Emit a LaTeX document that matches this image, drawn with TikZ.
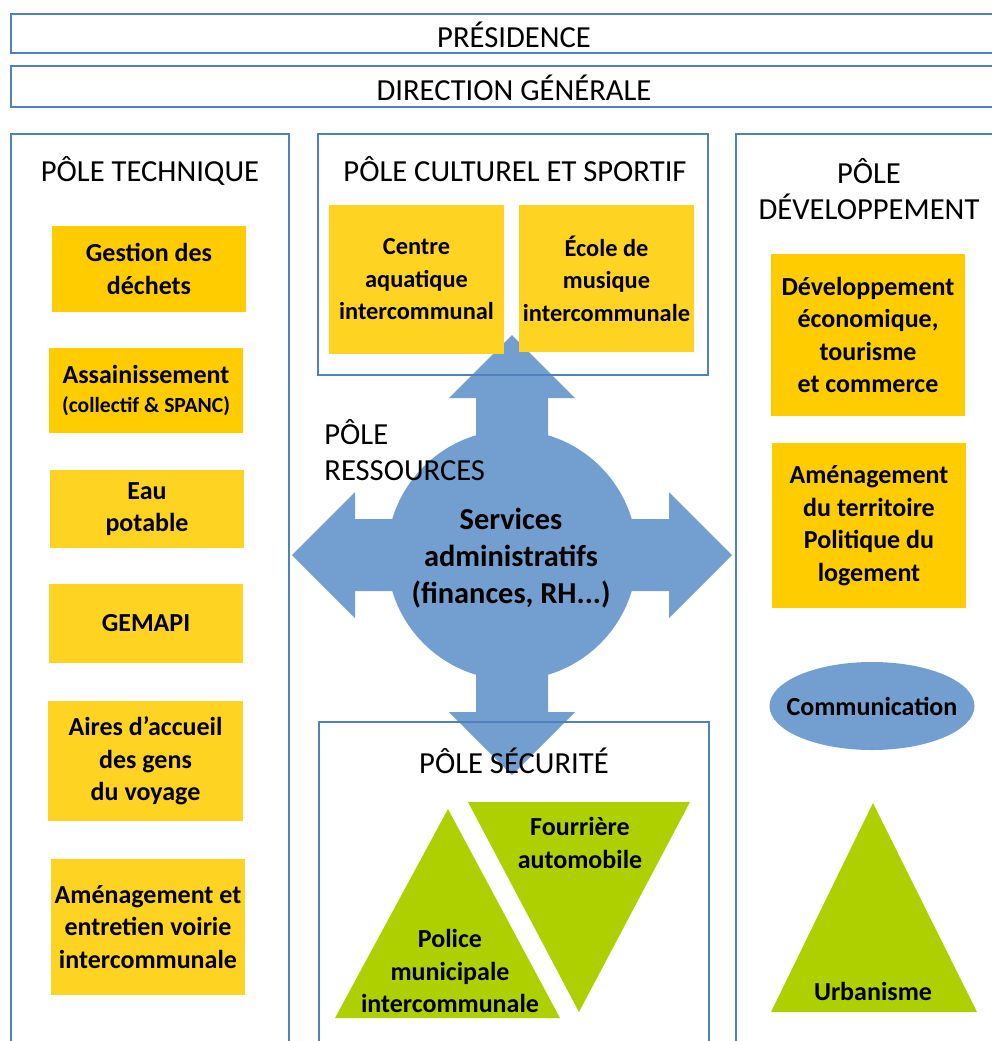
\documentclass[tikz,border=0pt]{standalone}
\usepackage{fontspec}
\setmainfont{Carlito}
\usetikzlibrary{shapes.geometric}
\definecolor{frameblue}{RGB}{79,129,189}
\definecolor{arrowblue}{RGB}{114,159,207}
\definecolor{yelA}{RGB}{255,204,0}
\definecolor{yelB}{RGB}{255,211,33}
\definecolor{greenfill}{RGB}{175,208,0}
\tikzset{
  frame/.style={draw=frameblue, line width=0.75pt},
  titletext/.style={font=\fontsize{15.3}{18}\selectfont, align=center, inner sep=0pt},
  ybox/.style={rectangle, fill=#1, inner sep=0pt, align=center,
    font=\fontsize{13}{16.25}\selectfont\bfseries},
  btext/.style={inner sep=0pt, align=center, font=\fontsize{13}{16.25}\selectfont\bfseries},
}
\begin{document}
\begin{tikzpicture}[x=0.5pt,y=-0.5pt]
\useasboundingbox (0,0) rectangle (992,1041);
\clip (0,0) rectangle (992,1041);
\fill[white] (0,0) rectangle (992,1041);

% central arrow shape (drawn first, underneath)
\fill[arrowblue] (512,555) circle[radius=125];
\fill[arrowblue] (476,555) -- (476,398) -- (449,398) -- (512,335) -- (575,398) -- (548,398) -- (548,555) -- cycle;
\fill[arrowblue] (476,555) -- (476,712) -- (449,712) -- (512,775) -- (575,712) -- (548,712) -- (548,555) -- cycle;
\fill[arrowblue] (512,519) -- (355,519) -- (355,492) -- (292,555) -- (355,618) -- (355,591) -- (512,591) -- cycle;
\fill[arrowblue] (512,519) -- (669,519) -- (669,492) -- (732,555) -- (669,618) -- (669,591) -- (512,591) -- cycle;

% top frames
\draw[frame] (11,14) rectangle (1000,53);
\node[titletext] (pres) at (514,35) {PRÉSIDENCE};
\draw[frame] (11,66) rectangle (1000,107);
\node[titletext] (dg) at (514,88) {DIRECTION GÉNÉRALE};

% column frames
\draw[frame] (11,134) rectangle (289,1060);
\draw[frame] (318,134) rectangle (708,375);
\draw[frame] (736,134) rectangle (1000,1060);
\draw[frame] (319,722) rectangle (709,1060);

% titles
\node[titletext] (ttech) at (150,171) {PÔLE TECHNIQUE};
\node[titletext] (tcult) at (515,169) {PÔLE CULTUREL ET SPORTIF};
\node[titletext] (tdev) at (869,189) {PÔLE\\DÉVELOPPEMENT};
\node[titletext, align=left, anchor=west] (tres) at (324,450) {PÔLE\\RESSOURCES};
\node[titletext] (tsec) at (514,761) {PÔLE SÉCURITÉ};

% left column
\node[ybox=yelA, minimum width=97pt, minimum height=43pt] (gest) at (149,269) {Gestion des\\déchets};
\node[ybox=yelA, minimum width=97pt, minimum height=42.5pt] (assa) at (146,390.5) {Assainissement\\[-2pt]{\fontsize{10.8}{13}\selectfont (collectif \& SPANC)}};
\node[ybox=yelB, minimum width=97pt, minimum height=39pt] (eau) at (147,509) {Eau\\potable};
\node[ybox=yelB, minimum width=97pt, minimum height=39.5pt] (gema) at (146,623.5) {GEMAPI};
\node[ybox=yelB, minimum width=97.5pt, minimum height=60pt] (aire) at (145.5,761) {Aires d’accueil\\des gens\\du voyage};
\node[ybox=yelB, minimum width=97pt, minimum height=68pt] (voir) at (148,927) {Aménagement et\\entretien voirie\\intercommunale};

% culture boxes
\node[ybox=yelB, minimum width=87.5pt, minimum height=74.5pt, font=\fontsize{12.2}{16.25}\selectfont\bfseries] (aqua) at (416.5,279.5) {Centre\\aquatique\\intercommunal};
\node[ybox=yelB, minimum width=87.5pt, minimum height=73.5pt, font=\fontsize{12.2}{16.25}\selectfont\bfseries] (musi) at (606.5,278.5) {École de\\musique\\intercommunale};

% right column
\node[ybox=yelA, minimum width=97pt, minimum height=81pt] (deve) at (868,335) {Développement\\économique,\\tourisme\\et commerce};
\node[ybox=yelA, minimum width=97pt, minimum height=82.5pt] (amen) at (869,525.5) {Aménagement\\du territoire\\Politique du\\logement};
\fill[arrowblue] (872,706) ellipse [x radius=102.5, y radius=44];
\node[btext] (comm) at (872,706) {Communication};

% triangles
\fill[greenfill] (873,803) -- (771,1012) -- (977,1012) -- cycle;
\node[btext] (urba) at (873,991) {Urbanisme};
\fill[greenfill] (448,809) -- (335,1018) -- (560,1018) -- cycle;
\node[btext] (poli) at (450,971) {Police\\municipale\\intercommunale};
\fill[greenfill] (468,802) -- (690,802) -- (579,1012) -- cycle;
\node[btext] (four) at (580,843) {Fourrière\\automobile};

% central text
\node[btext, font=\fontsize{15.2}{18.5}\selectfont\bfseries] (serv) at (511,558) {Services\\administratifs\\(finances, RH...)};
\end{tikzpicture}
\end{document}
